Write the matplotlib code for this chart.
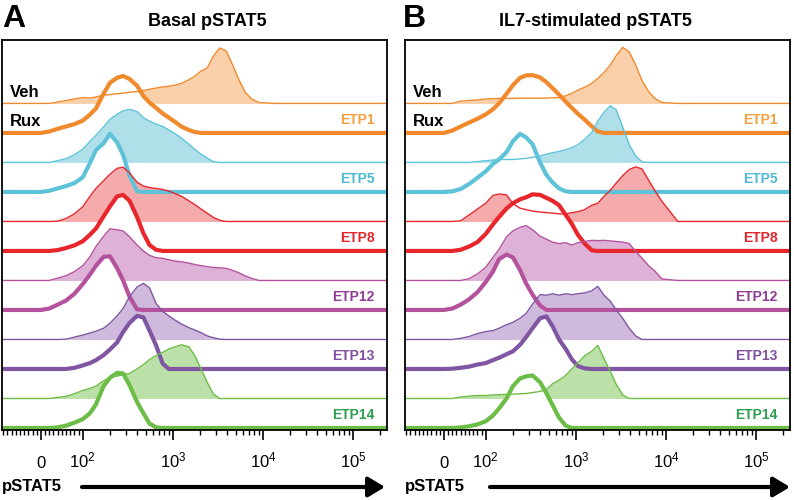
import matplotlib
matplotlib.use('Agg')
import matplotlib.pyplot as plt
from matplotlib.patches import FancyArrowPatch
from matplotlib.transforms import blended_transform_factory

plt.rcParams['font.family'] = ['Liberation Sans', 'DejaVu Sans']
plt.rcParams['mathtext.fontset'] = 'custom'
plt.rcParams['mathtext.rm'] = 'Liberation Sans'
plt.rcParams['mathtext.it'] = 'Liberation Sans:italic'
plt.rcParams['mathtext.bf'] = 'Liberation Sans:bold'

NARROW = ['Liberation Sans Narrow', 'Liberation Sans', 'DejaVu Sans']

samples = ['ETP1', 'ETP5', 'ETP8', 'ETP12', 'ETP13', 'ETP14']

grid = [-95, 0, 20, 40, 60, 80, 100, 120, 140, 170, 200, 240, 280, 330, 400,
        470, 550, 650, 770, 900, 1050, 1250, 1500, 1750, 2050, 2400, 2800,
        3300, 3900, 4600, 5400, 6400, 7500, 9000, 13500, 25000, 250000]

major_ticks = [0, 100, 1000, 10000, 100000]
major_labels = ['0', r'$\mathregular{10^2}$', r'$\mathregular{10^3}$',
                r'$\mathregular{10^4}$', r'$\mathregular{10^5}$']

line_colors = ['#F08A2C', '#5EC3D8', '#E8262B', '#B5529E', '#8056A3', '#6CBD45']
fill_colors = ['#F9D0A9', '#AFE0EA', '#F5AAAB', '#DDB2D6', '#CFBADD', '#BBE0A8']
label_colors = ['#F4A03E', '#4FB9D4', '#E3262C', '#8E3D94', '#7E4FA0', '#2E9E4F']

# histogram heights (in units of the offset between traces)
basal_veh = {
    'ETP1': [0, 0, 0, 0.05, 0.1, 0.15, 0.2, 0.18, 0.22, 0.28, 0.3, 0.33, 0.35, 0.38, 0.4, 0.44, 0.48, 0.52, 0.56, 0.58, 0.62, 0.68, 0.8, 0.92, 1.1, 1.2, 1.6, 1.88, 1.78, 1.3, 0.8, 0.36, 0.15, 0.03, 0, 0, 0],
    'ETP5': [0, 0, 0, 0.06, 0.13, 0.26, 0.45, 0.71, 0.92, 1.2, 1.46, 1.63, 1.75, 1.8, 1.72, 1.52, 1.4, 1.3, 1.22, 1.1, 0.98, 0.82, 0.62, 0.44, 0.28, 0.15, 0.02, 0, 0, 0, 0, 0, 0, 0, 0, 0, 0],
    'ETP8': [0, 0, 0, 0.01, 0.1, 0.26, 0.5, 0.85, 1.12, 1.38, 1.6, 1.8, 1.84, 1.64, 1.33, 1.2, 1.15, 1.12, 1.08, 1.03, 0.95, 0.85, 0.7, 0.57, 0.42, 0.28, 0.14, 0.04, 0, 0, 0, 0, 0, 0, 0, 0, 0],
    'ETP12': [0, 0, 0, 0.08, 0.16, 0.3, 0.5, 0.8, 1.15, 1.5, 1.75, 1.72, 1.68, 1.48, 1.2, 1.0, 0.85, 0.77, 0.75, 0.7, 0.66, 0.63, 0.59, 0.54, 0.5, 0.47, 0.44, 0.43, 0.41, 0.34, 0.26, 0.15, 0.07, 0, 0, 0, 0],
    'ETP13': [0, 0, 0, 0, 0.01, 0.08, 0.15, 0.22, 0.28, 0.38, 0.55, 0.8, 1.05, 1.45, 1.78, 1.9, 1.75, 1.22, 0.95, 0.8, 0.66, 0.52, 0.4, 0.32, 0.23, 0.12, 0.06, 0.01, 0, 0, 0, 0, 0, 0, 0, 0, 0],
    'ETP14': [0, 0, 0, 0.04, 0.07, 0.16, 0.27, 0.34, 0.42, 0.6, 0.71, 0.76, 0.8, 0.85, 1.0, 1.15, 1.32, 1.45, 1.56, 1.68, 1.75, 1.82, 1.75, 1.45, 1.0, 0.55, 0.15, 0, 0, 0, 0, 0, 0, 0, 0, 0, 0],
}
basal_rux = {
    'ETP1': [0, 0, 0.05, 0.14, 0.22, 0.3, 0.42, 0.62, 0.83, 1.33, 1.7, 1.87, 1.93, 1.83, 1.6, 1.25, 1.03, 0.85, 0.66, 0.52, 0.38, 0.21, 0.1, 0.03, 0, 0, 0, 0, 0, 0, 0, 0, 0, 0, 0, 0, 0],
    'ETP5': [0, 0, 0.04, 0.12, 0.2, 0.3, 0.5, 0.98, 1.42, 1.65, 1.97, 1.68, 1.25, 0.55, 0.02, 0, 0, 0, 0, 0, 0, 0, 0, 0, 0, 0, 0, 0, 0, 0, 0, 0, 0, 0, 0, 0, 0],
    'ETP8': [0, 0, 0, 0.03, 0.1, 0.19, 0.33, 0.55, 0.76, 1.17, 1.51, 1.85, 1.9, 1.7, 1.15, 0.6, 0.2, 0.04, 0, 0, 0, 0, 0, 0, 0, 0, 0, 0, 0, 0, 0, 0, 0, 0, 0, 0, 0],
    'ETP12': [0, 0, 0.05, 0.18, 0.32, 0.55, 0.88, 1.2, 1.5, 1.8, 1.82, 1.42, 1.0, 0.45, 0.02, 0, 0, 0, 0, 0, 0, 0, 0, 0, 0, 0, 0, 0, 0, 0, 0, 0, 0, 0, 0, 0, 0],
    'ETP13': [0, 0, 0, 0, 0, 0.04, 0.12, 0.2, 0.3, 0.47, 0.66, 0.9, 1.25, 1.56, 1.8, 1.75, 1.3, 0.8, 0.18, 0, 0, 0, 0, 0, 0, 0, 0, 0, 0, 0, 0, 0, 0, 0, 0, 0, 0],
    'ETP14': [0, 0, 0, 0.02, 0.08, 0.18, 0.3, 0.5, 0.8, 1.42, 1.7, 1.87, 1.85, 1.45, 0.88, 0.5, 0.15, 0.02, 0, 0, 0, 0, 0, 0, 0, 0, 0, 0, 0, 0, 0, 0, 0, 0, 0, 0, 0],
}
il7_veh = {
    'ETP1': [0, 0, 0, 0.08, 0.1, 0.12, 0.15, 0.16, 0.17, 0.17, 0.17, 0.18, 0.18, 0.18, 0.18, 0.18, 0.19, 0.2, 0.26, 0.34, 0.45, 0.55, 0.68, 0.85, 1.05, 1.3, 1.62, 1.9, 1.75, 1.3, 0.78, 0.4, 0.17, 0.03, 0, 0, 0],
    'ETP5': [0, 0, 0, 0, 0, 0.03, 0.06, 0.08, 0.1, 0.1, 0.1, 0.12, 0.14, 0.17, 0.22, 0.28, 0.33, 0.37, 0.43, 0.5, 0.6, 0.78, 1.02, 1.4, 1.7, 1.92, 1.78, 1.2, 0.6, 0.22, 0.02, 0, 0, 0, 0, 0, 0],
    'ETP8': [0, 0, 0, 0.02, 0.22, 0.42, 0.62, 0.88, 0.93, 0.9, 0.6, 0.45, 0.4, 0.35, 0.32, 0.3, 0.28, 0.26, 0.25, 0.3, 0.33, 0.4, 0.55, 0.62, 0.85, 1.05, 1.3, 1.55, 1.76, 1.85, 1.78, 1.4, 1.05, 0.68, 0, 0, 0],
    'ETP12': [0, 0, 0, 0, 0.06, 0.22, 0.45, 0.78, 1.05, 1.48, 1.68, 1.8, 1.86, 1.72, 1.5, 1.4, 1.3, 1.25, 1.28, 1.2, 1.28, 1.32, 1.36, 1.35, 1.36, 1.34, 1.32, 1.3, 1.25, 0.98, 0.76, 0.5, 0.32, 0.05, 0, 0, 0],
    'ETP13': [0, 0, 0, 0.04, 0.1, 0.2, 0.27, 0.3, 0.38, 0.5, 0.58, 0.72, 0.88, 1.2, 1.52, 1.5, 1.55, 1.5, 1.55, 1.52, 1.55, 1.58, 1.65, 1.8, 1.5, 1.3, 1.0, 0.72, 0.38, 0.12, 0, 0, 0, 0, 0, 0, 0],
    'ETP14': [0, 0, 0, 0.05, 0.08, 0.1, 0.1, 0.12, 0.13, 0.14, 0.15, 0.16, 0.17, 0.2, 0.24, 0.3, 0.5, 0.62, 0.78, 1.0, 1.2, 1.45, 1.6, 1.8, 1.35, 0.92, 0.48, 0.12, 0, 0, 0, 0, 0, 0, 0, 0, 0],
}
il7_rux = {
    'ETP1': [0, 0, 0.08, 0.22, 0.35, 0.48, 0.63, 0.8, 1.0, 1.33, 1.62, 1.87, 1.95, 1.96, 1.88, 1.72, 1.52, 1.3, 1.06, 0.85, 0.65, 0.45, 0.22, 0.05, 0, 0, 0, 0, 0, 0, 0, 0, 0, 0, 0, 0, 0],
    'ETP5': [0, 0, 0.02, 0.1, 0.27, 0.48, 0.7, 0.95, 1.1, 1.35, 1.72, 1.97, 1.85, 1.62, 1.0, 0.58, 0.32, 0.12, 0.02, 0, 0, 0, 0, 0, 0, 0, 0, 0, 0, 0, 0, 0, 0, 0, 0, 0, 0],
    'ETP8': [0, 0, 0, 0.04, 0.15, 0.3, 0.58, 0.9, 1.15, 1.44, 1.62, 1.75, 1.82, 1.92, 1.9, 1.8, 1.7, 1.55, 1.22, 0.92, 0.55, 0.25, 0.02, 0, 0, 0, 0, 0, 0, 0, 0, 0, 0, 0, 0, 0, 0],
    'ETP12': [0, 0, 0.05, 0.18, 0.36, 0.6, 0.95, 1.3, 1.72, 1.88, 1.78, 1.35, 0.9, 0.52, 0.15, 0, 0, 0, 0, 0, 0, 0, 0, 0, 0, 0, 0, 0, 0, 0, 0, 0, 0, 0, 0, 0, 0],
    'ETP13': [0, 0, 0.01, 0.04, 0.08, 0.15, 0.2, 0.3, 0.38, 0.5, 0.6, 0.82, 1.08, 1.38, 1.72, 1.78, 1.45, 1.0, 0.68, 0.33, 0.1, 0.02, 0, 0, 0, 0, 0, 0, 0, 0, 0, 0, 0, 0, 0, 0, 0],
    'ETP14': [0, 0, 0, 0.02, 0.06, 0.12, 0.23, 0.42, 0.66, 1.0, 1.42, 1.68, 1.75, 1.78, 1.55, 1.18, 0.78, 0.35, 0.08, 0, 0, 0, 0, 0, 0, 0, 0, 0, 0, 0, 0, 0, 0, 0, 0, 0, 0],
}


def draw_panel(ax, veh, rux):
    n = len(samples)
    side = blended_transform_factory(ax.transAxes, ax.transData)
    for i, s in enumerate(samples):
        base_v = 2 * (n - 1 - i) + 1
        base_r = 2 * (n - 1 - i)
        yv = [base_v + h for h in veh[s]]
        yr = [base_r + h for h in rux[s]]
        # Veh: filled, thin outline; Rux: thick outline over white
        ax.fill_between(grid, base_v, yv, color=fill_colors[i], lw=0)
        ax.plot(grid, yv, color=line_colors[i], lw=1.0)
        ax.fill_between(grid, base_r, yr, color='white', lw=0)
        ax.plot(grid, yr, color=line_colors[i], lw=3.0, solid_joinstyle='round')
        ax.text(0.968, base_r + 0.43, s, transform=side, ha='right', va='center',
                color=label_colors[i], fontsize=10, fontweight='bold', family=NARROW)

    ax.text(0.02, 2 * n - 1 + 0.37, 'Veh', transform=side, ha='left', va='center',
            fontsize=12, fontweight='bold', family=NARROW)
    ax.text(0.02, 2 * n - 2 + 0.4, 'Rux', transform=side, ha='left', va='center',
            fontsize=12, fontweight='bold', family=NARROW)

    ax.set_xscale('symlog', linthresh=100, linscale=0.418)
    ax.set_xlim(-93, 237000)
    ax.set_ylim(-0.068, 13.15)
    ax.set_yticks([])
    ax.set_xticks(major_ticks, major_labels)
    minor = ([-m for m in range(10, 100, 10)] + list(range(10, 100, 10)) +
             list(range(200, 1000, 100)) + list(range(2000, 10000, 1000)) +
             list(range(20000, 100000, 10000)) + [200000])
    ax.set_xticks(minor, minor=True)
    ax.tick_params(axis='x', which='major', length=7, width=1.2, pad=20,
                   labelsize=12, direction='out')
    ax.tick_params(axis='x', which='minor', length=3.5, width=1.0, direction='out')
    for t in ax.xaxis.get_major_ticks():
        t.label1.set_verticalalignment('baseline')
    for sp in ax.spines.values():
        sp.set_linewidth(1.3)


fig = plt.figure(figsize=(7.94, 5.0), dpi=100)
ax_a = fig.add_axes([2 / 794, 0.14, 385 / 794, 0.78])
ax_b = fig.add_axes([405 / 794, 0.14, 385 / 794, 0.78])
draw_panel(ax_a, basal_veh, basal_rux)
draw_panel(ax_b, il7_veh, il7_rux)

fig.text(2 / 794, 1 - 19 / 500, 'A', fontsize=23, fontweight='bold', va='center')
fig.text(403 / 794, 1 - 19 / 500, 'B', fontsize=23, fontweight='bold', va='center')
fig.text(207 / 794, 1 - 21 / 500, 'Basal pSTAT5', fontsize=13, fontweight='bold',
         ha='center', va='center')
fig.text(595 / 794, 1 - 21 / 500, 'IL7-stimulated pSTAT5', fontsize=13,
         fontweight='bold', ha='center', va='center')

for x0, x1, xt in [(82, 385, 2), (490, 790, 405)]:
    fig.text(xt / 794, 13 / 500, 'pSTAT5', fontsize=12, fontweight='bold',
             va='center', ha='left', family=NARROW)
    fig.add_artist(FancyArrowPatch(
        (x0 / 794, 13 / 500), (x1 / 794, 13 / 500), transform=fig.transFigure,
        arrowstyle='-|>,head_length=0.5,head_width=0.3', mutation_scale=20,
        lw=3, color='black', shrinkA=0, shrinkB=0))

fig.savefig('out.png', dpi=100)
